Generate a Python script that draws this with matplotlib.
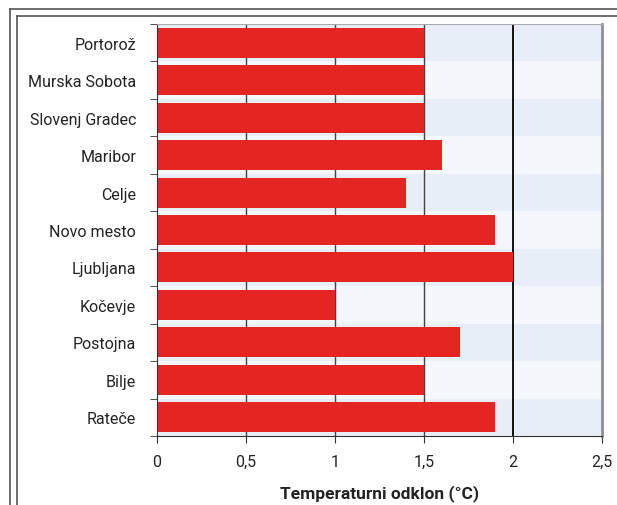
import matplotlib.pyplot as plt
from matplotlib.lines import Line2D

# station names (top to bottom) and temperature deviation
stations = ["Portorož", "Murska Sobota", "Slovenj Gradec", "Maribor", "Celje",
            "Novo mesto", "Ljubljana", "Kočevje", "Postojna", "Bilje", "Rateče"]
odklon = [1.5, 1.5, 1.5, 1.6, 1.4, 1.9, 2.0, 1.0, 1.7, 1.5, 1.9]
xticks = [0, 0.5, 1, 1.5, 2, 2.5]
xtick_labels = ["0", "0,5", "1", "1,5", "2", "2,5"]

plt.rcParams['font.family'] = ['Roboto', 'DejaVu Sans']

fig = plt.figure(figsize=(6.17, 5.06), dpi=100)
W, H = 617, 506
ax = fig.add_axes([157 / W, 1 - 437 / H, (602 - 157) / W, (437 - 25) / H])

n = len(stations)
ypos = list(range(n))

# alternating background bands
for i in ypos:
    c = "#e8eef8" if i % 2 == 0 else "#f4f7fc"
    ax.axhspan(i - 0.5, i + 0.5, color=c, lw=0, zorder=0)

# vertical grid
for x in [0.5, 1, 1.5]:
    ax.axvline(x, color="#444444", lw=1, zorder=1)
ax.axvline(2, color="black", lw=1.3, zorder=1)

ax.barh(ypos, odklon, height=0.8, color="#e52521", zorder=2)

ax.set_xlim(0, 2.5)
ax.set_ylim(n - 0.5, -0.5)
ax.set_yticks(ypos)
ax.set_yticklabels(stations, fontsize=11.5, color="#222222")
ax.set_yticks([i - 0.5 for i in range(n + 1)], minor=True)
ax.tick_params(axis="y", which="major", length=0, pad=15)
ax.tick_params(axis="y", which="minor", length=5, color="#333333")
ax.set_xticks(xticks)
ax.set_xticklabels(xtick_labels, fontsize=11.5, color="#222222")
ax.tick_params(axis="x", length=5, color="#333333", pad=8)
ax.set_xlabel("Temperaturni odklon (°C)", fontsize=12.5, fontweight="bold",
              color="#222222", labelpad=11)

ax.spines["top"].set_color("#aaaaaa")
ax.spines["right"].set_color("#909090")
ax.spines["right"].set_linewidth(2)
ax.spines["left"].set_color("#333333")
ax.spines["bottom"].set_color("#333333")

# double frame around the chart
for off in [10, 17]:
    fig.add_artist(Line2D([off / W, 1], [1 - off / H, 1 - off / H],
                          color="#555555", lw=1.2, transform=fig.transFigure))
    fig.add_artist(Line2D([off / W, off / W], [0, 1 - off / H],
                          color="#555555", lw=1.2, transform=fig.transFigure))

fig.savefig("out.png", dpi=100)
